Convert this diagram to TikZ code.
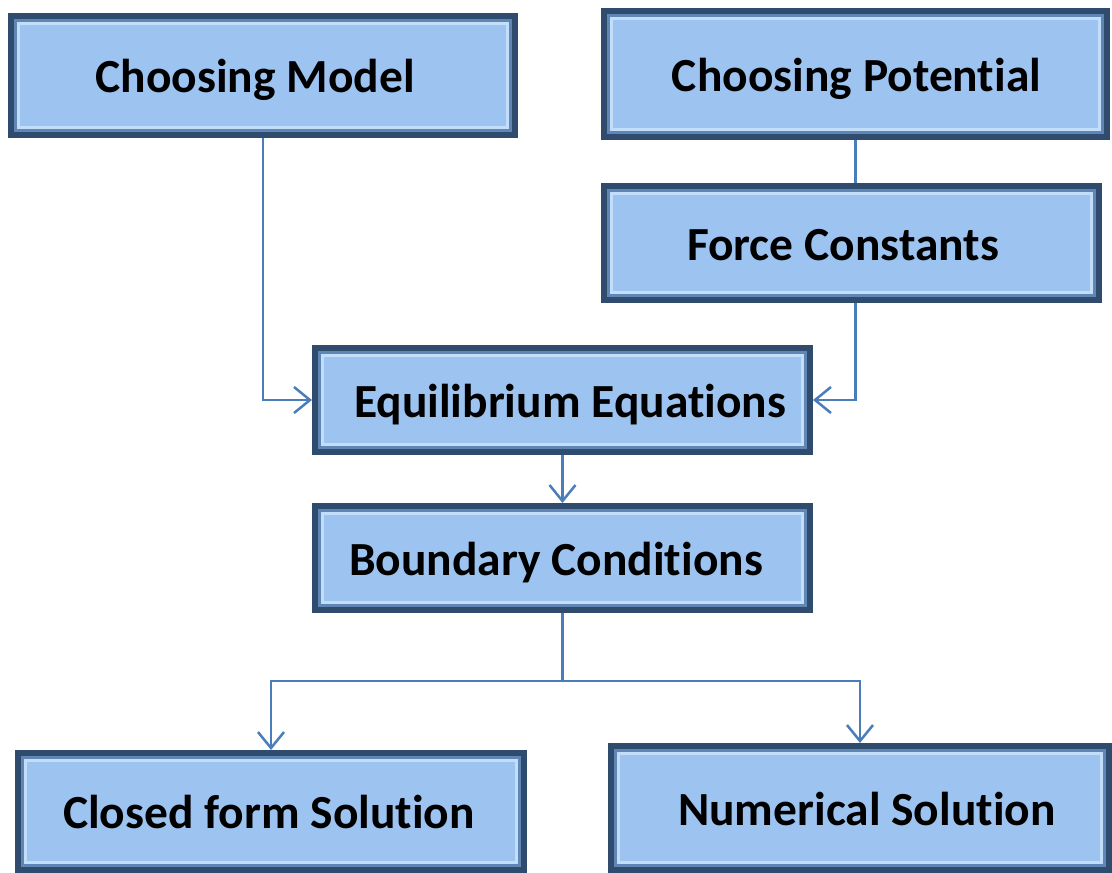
\documentclass[tikz,border=0pt]{standalone}
\usepackage{fontspec}
\setmainfont{Carlito}[Ligatures=NoCommon]
\usetikzlibrary{arrows.meta,positioning}

\definecolor{boxfill}{HTML}{9DC3F0}
\definecolor{boxdark}{HTML}{2F4B6E}
\definecolor{boxmid}{HTML}{5F86B4}
\definecolor{boxlight}{HTML}{C2DEFA}
\definecolor{linkblue}{HTML}{4A7EBB}

\begin{document}
\begin{tikzpicture}[x=1pt,y=-1pt,>={Straight Barb[length=16pt,width=26pt]},
                    link/.style={draw=linkblue,line width=2.5pt},
                    nudge/.style={execute at begin node=\hspace*{#1}},
                    stage/.style={rectangle,fill=boxfill,draw=boxdark,line width=6pt,
                      font=\fontsize{47.5}{52}\selectfont\bfseries,text=black,
                      text height=44pt,text depth=10pt,
                      path picture={
                        \draw[boxmid,line width=3pt]
                          ([shift={(4.5pt,-4.5pt)}]path picture bounding box.north west) rectangle
                          ([shift={(-4.5pt,4.5pt)}]path picture bounding box.south east);
                        \draw[boxlight,line width=3pt]
                          ([shift={(7.5pt,-7.5pt)}]path picture bounding box.north west) rectangle
                          ([shift={(-7.5pt,7.5pt)}]path picture bounding box.south east);
                      }}]
  \useasboundingbox (0,0) rectangle (1112,873);

  \node[stage,nudge=-16pt,minimum width=504pt,minimum height=119pt] (model) at (263,75.5) {Choosing Model};
  \node[stage,nudge=2pt,minimum width=503pt,minimum height=126pt] (potential) at (855.5,74) {Choosing Potential};
  \node[stage,nudge=-17pt,minimum width=495pt,minimum height=114pt] (force) at (851.5,243) {Force Constants};
  \node[stage,nudge=15pt,minimum width=495pt,minimum height=104pt] (equil) at (562.5,400) {Equilibrium Equations};
  \node[stage,nudge=-13pt,minimum width=495pt,minimum height=104pt] (bound) at (562.5,558) {Boundary Conditions};
  \node[stage,nudge=-4pt,minimum width=506pt,minimum height=117pt] (closed) at (271,811.5) {Closed form Solution};
  \node[stage,nudge=14pt,minimum width=498pt,minimum height=124pt] (numer) at (860,808) {Numerical Solution};

  \coordinate (split) at ([yshift=-68pt]bound.south);

  \draw[link,->] (model.south) |- (equil.west);
  \draw[link] (potential.south) -- (potential.south |- force.north);
  \draw[link,->] (potential.south |- force.south) |- (equil.east);
  \draw[link,->] (equil.south) -- (bound.north);
  \draw[link] (bound.south) -- (split);
  \draw[link,->] (split) -| (closed.north);
  \draw[link,->] (split) -| (numer.north);
\end{tikzpicture}
\end{document}
